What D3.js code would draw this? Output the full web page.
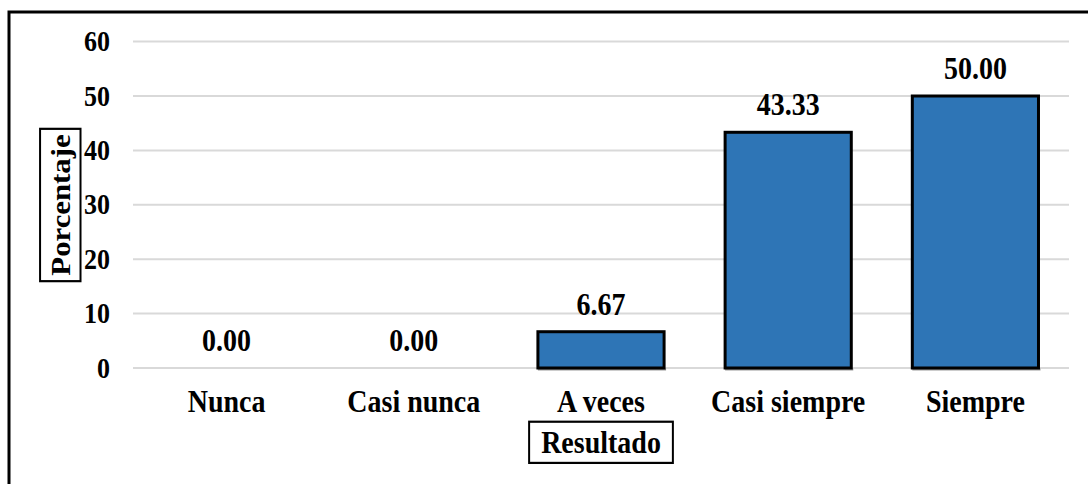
<!DOCTYPE html>
<html>
<head>
<meta charset="utf-8">
<script src="https://cdn.jsdelivr.net/npm/d3@7"></script>
<style>
  body { margin: 0; background: #fff; }
  text { font-family: "Liberation Serif", "Times New Roman", serif; font-weight: bold; fill: #000; }
  /* el grafico original esta algo estirado en vertical */
  .alto { transform-box: fill-box; transform-origin: center; transform: scaleY(1.1); }
</style>
</head>
<body>
<svg id="chart" width="1088" height="484"></svg>
<script>
// categorias y porcentajes
var categorias = ["Nunca", "Casi nunca", "A veces", "Casi siempre", "Siempre"];
var porcentajes = [0.00, 0.00, 6.67, 43.33, 50.00];
var ticksY = [0, 10, 20, 30, 40, 50, 60];

var svg = d3.select("#chart"),
    margin = {top: 41.6, right: 19, bottom: 116, left: 133},
    width = +svg.attr("width") - margin.left - margin.right,
    height = +svg.attr("height") - margin.top - margin.bottom;

// marco exterior (se sale por la derecha y abajo)
svg.append("rect")
    .attr("x", 9).attr("y", 12)
    .attr("width", 1200).attr("height", 600)
    .attr("fill", "none")
    .attr("stroke", "#000")
    .attr("stroke-width", 3);

var g = svg.append("g").attr("transform", "translate(" + margin.left + "," + margin.top + ")");

var x = d3.scaleBand()
    .domain(categorias)
    .range([0, width])
    .paddingInner(0.326)
    .paddingOuter(0.163);

var y = d3.scaleLinear()
    .domain([0, 60])
    .range([height, 0]);

// grid
g.selectAll(".grid")
    .data(ticksY)
    .enter().append("line")
    .attr("x1", 0).attr("x2", width)
    .attr("y1", function(d) { return y(d); })
    .attr("y2", function(d) { return y(d); })
    .attr("stroke", "#d9d9d9")
    .attr("stroke-width", 2);

// eje y
var ejeY = g.append("g")
    .call(d3.axisLeft(y).tickValues(ticksY).tickSize(0).tickPadding(23));
ejeY.select(".domain").remove();
ejeY.selectAll("text")
    .attr("class", "alto")
    .style("font-size", "26px")
    .attr("font-family", null);

// barras
var datos = categorias.map(function(c, i) { return {cat: c, val: porcentajes[i]}; });

g.selectAll(".sombra")
    .data(datos.filter(function(d) { return d.val > 0; }))
    .enter().append("line")
    .attr("x1", function(d) { return x(d.cat); })
    .attr("x2", function(d) { return x(d.cat) + x.bandwidth() + 2; })
    .attr("y1", height + 1.5).attr("y2", height + 1.5)
    .attr("stroke", "#999").attr("stroke-width", 2);

g.selectAll(".bar")
    .data(datos.filter(function(d) { return d.val > 0; }))
    .enter().append("rect")
    .attr("x", function(d) { return x(d.cat); })
    .attr("y", function(d) { return y(d.val); })
    .attr("width", x.bandwidth())
    .attr("height", function(d) { return height - y(d.val); })
    .attr("fill", "#2e75b6")
    .attr("stroke", "#000")
    .attr("stroke-width", 3);

// etiquetas de datos
g.selectAll(".etiqueta")
    .data(datos)
    .enter().append("text")
    .attr("class", "alto")
    .attr("x", function(d) { return x(d.cat) + x.bandwidth() / 2; })
    .attr("y", function(d) { return y(d.val) - 18; })
    .attr("text-anchor", "middle")
    .style("font-size", "28px")
    .text(function(d) { return d3.format(".2f")(d.val); });

// eje x
var ejeX = g.append("g")
    .attr("transform", "translate(0," + height + ")")
    .call(d3.axisBottom(x).tickSize(0).tickPadding(0));
ejeX.select(".domain").remove();
ejeX.selectAll("text")
    .attr("class", "alto")
    .attr("dy", null)
    .attr("y", 43)
    .style("font-size", "28px")
    .attr("font-family", null);

// titulos de ejes con recuadro
function tituloConCaja(texto, cx, cy, rot, sx, sy, padL, padA) {
    var t = svg.append("g").attr("transform",
        "translate(" + cx + "," + cy + ") rotate(" + rot + ") scale(" + sx + "," + sy + ")");
    var txt = t.append("text")
        .attr("text-anchor", "middle")
        .attr("dy", "0.35em")
        .style("font-size", "28px")
        .text(texto);
    var bb = txt.node().getBBox();
    t.insert("rect", "text")
        .attr("x", bb.x - padL).attr("y", bb.y - padA)
        .attr("width", bb.width + 2 * padL).attr("height", bb.height + 2 * padA)
        .attr("fill", "#fff").attr("stroke", "#000").attr("stroke-width", 2);
}
tituloConCaja("Resultado", 601, 442, 0, 1, 1.1, 12, 3.5);
tituloConCaja("Porcentaje", 60, 205, -90, 1.1, 1, 5, 5);
</script>
</body>
</html>
